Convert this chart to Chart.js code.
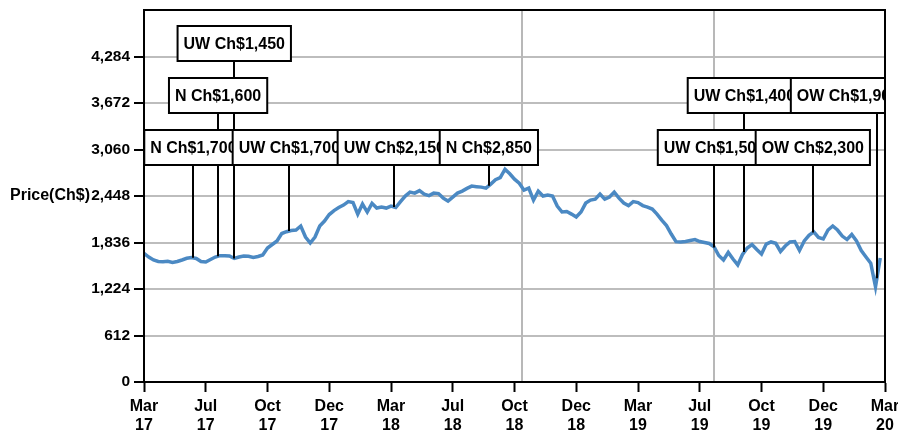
<!DOCTYPE html>
<html>
<head>
<meta charset="utf-8">
<script src="https://cdn.jsdelivr.net/npm/chart.js@4"></script>
<style>
  html, body { margin: 0; padding: 0; background: #fff; }
  #wrap { width: 898px; height: 434px; }
</style>
</head>
<body>
<div id="wrap"><canvas id="myChart"></canvas></div>
<script>
// weekly closing price (Ch$), Mar 2017 -> Mar 2020
const prices = [
  1694, 1645, 1606, 1586, 1584, 1590, 1573, 1586, 1606, 1628,
  1639, 1626, 1586, 1580, 1613, 1645, 1663, 1663, 1659, 1626,
  1645, 1659, 1655, 1639, 1652, 1672, 1764, 1810, 1856, 1954,
  1978, 1994, 2000, 2053, 1908, 1829, 1908, 2053, 2118, 2204,
  2256, 2296, 2328, 2374, 2361, 2210, 2342, 2237, 2351, 2289,
  2302, 2289, 2315, 2296, 2374, 2447, 2499, 2486, 2519, 2473,
  2453, 2486, 2480, 2420, 2381, 2434, 2486, 2512, 2548, 2578,
  2571, 2565, 2552, 2604, 2663, 2690, 2800, 2740, 2670, 2617,
  2525, 2552, 2394, 2512, 2447, 2460, 2447, 2315, 2237, 2243,
  2210, 2171, 2237, 2355, 2394, 2407, 2473, 2407, 2434, 2499,
  2420, 2355, 2322, 2374, 2361, 2322, 2302, 2276, 2210, 2131,
  2059, 1948, 1847, 1843, 1849, 1862, 1875, 1849, 1836, 1823,
  1781, 1665, 1606, 1705, 1619, 1541, 1678, 1764, 1810, 1744,
  1685, 1816, 1843, 1825, 1718, 1790, 1843, 1849, 1731, 1856,
  1930, 1975, 1902, 1882, 2000, 2053, 2000, 1921, 1875, 1941,
  1856, 1731, 1646, 1563, 1252, 1632
];

const tickMonths = ['Mar', 'Jul', 'Oct', 'Dec', 'Mar', 'Jul', 'Oct', 'Dec', 'Mar', 'Jul', 'Oct', 'Dec', 'Mar'];
const tickYears = ['17', '17', '17', '17', '18', '18', '18', '18', '19', '19', '19', '19', '20'];
const yTicks = [0, 612, 1224, 1836, 2448, 3060, 3672, 4284];
const yMax = 4896;
const totalWeeks = 156;

// grey marker lines (week index)
const markerWeeks = [79.6, 120.1];

// rating notes: week of the call, where its box sits, text, row
const noteWeeks = [10.4, 15.6, 19.0, 30.6, 52.7, 72.6, 120.1, 126.4, 140.8, 154.3];
const noteBoxWeeks = [10.4, 15.6, 19.0, 30.6, 52.7, 72.6, 120.1, 126.4, 140.8, 148.2];
const noteLabels = ['N Ch$1,700', 'N Ch$1,600', 'UW Ch$1,450', 'UW Ch$1,700', 'UW Ch$2,150',
                    'N Ch$2,850', 'UW Ch$1,500', 'UW Ch$1,400', 'OW Ch$2,300', 'OW Ch$1,900'];
const noteRows = [2, 1, 0, 2, 2, 2, 2, 1, 2, 1];

const FONT = '"Liberation Sans", Arial, Helvetica, sans-serif';

function priceAt(w) {
  const i = Math.floor(w), f = w - i;
  if (i >= prices.length - 1) return prices[prices.length - 1];
  return prices[i] + (prices[i + 1] - prices[i]) * f;
}

const notesPlugin = {
  id: 'notes',
  beforeDatasetsDraw(chart) {
    const { ctx, chartArea: a, scales: { x } } = chart;
    ctx.save();
    ctx.strokeStyle = '#b8b8b8';
    ctx.lineWidth = 2;
    markerWeeks.forEach(w => {
      const px = Math.round(x.getPixelForValue(w));
      ctx.beginPath();
      ctx.moveTo(px, a.top);
      ctx.lineTo(px, a.bottom);
      ctx.stroke();
    });
    ctx.restore();
  },
  afterDatasetsDraw(chart) {
    const { ctx, chartArea: a, scales: { x, y } } = chart;
    const rowTops = [16, 68, 120];
    const boxH = 35;
    ctx.save();
    ctx.beginPath();
    ctx.rect(a.left, a.top, a.right - a.left, a.bottom - a.top);
    ctx.clip();
    ctx.font = 'bold 16px ' + FONT;
    ctx.strokeStyle = '#000';
    ctx.lineWidth = 2;

    // connector lines, behind every box
    noteWeeks.forEach((w, i) => {
      const px = Math.round(x.getPixelForValue(w));
      const top = a.top + rowTops[noteRows[i]] + boxH;
      const py = y.getPixelForValue(priceAt(w));
      ctx.beginPath();
      ctx.moveTo(px, top);
      ctx.lineTo(px, py);
      ctx.stroke();
    });

    // boxes, later ones drawn over earlier ones
    noteLabels.forEach((t, i) => {
      const bw = ctx.measureText(t).width + 12;
      const cx = x.getPixelForValue(noteBoxWeeks[i]);
      const top = a.top + rowTops[noteRows[i]];
      ctx.fillStyle = '#fff';
      ctx.fillRect(cx - bw / 2, top, bw, boxH);
      ctx.strokeRect(cx - bw / 2, top, bw, boxH);
      ctx.fillStyle = '#000';
      ctx.textAlign = 'center';
      ctx.textBaseline = 'middle';
      ctx.fillText(t, cx, top + boxH / 2 + 1);
    });
    ctx.restore();

    // plot frame + y title
    ctx.save();
    ctx.strokeStyle = '#000';
    ctx.lineWidth = 2;
    ctx.strokeRect(a.left, a.top, a.right - a.left, a.bottom - a.top);
    ctx.font = 'bold 16px ' + FONT;
    ctx.fillStyle = '#000';
    ctx.textAlign = 'right';
    ctx.textBaseline = 'middle';
    ctx.fillText('Price(Ch$)', 90, (a.top + a.bottom) / 2);
    ctx.restore();
  }
};

new Chart(document.getElementById('myChart'), {
  type: 'line',
  data: {
    datasets: [{
      label: 'Price(Ch$)',
      data: prices.map((p, i) => ({ x: i, y: p })),
      borderColor: '#4b89c3',
      borderWidth: 3.5,
      pointRadius: 0,
      tension: 0,
      fill: false
    }]
  },
  options: {
    responsive: true,
    maintainAspectRatio: false,
    animation: false,
    layout: { padding: { top: 10, right: 13, left: 0, bottom: 0 } },
    plugins: {
      legend: { display: false },
      tooltip: { enabled: false }
    },
    scales: {
      x: {
        type: 'linear',
        min: 0,
        max: totalWeeks,
        afterBuildTicks: s => { s.ticks = tickMonths.map((m, i) => ({ value: i * totalWeeks / (tickMonths.length - 1) })); },
        afterFit: s => { s.height = 52; s.paddingLeft = 0; s.paddingRight = 0; },
        ticks: {
          autoSkip: false,
          maxRotation: 0,
          padding: 5,
          color: '#000',
          font: { family: FONT, size: 16, weight: 'bold' },
          callback: (v, i) => [tickMonths[i], tickYears[i]]
        },
        grid: { drawOnChartArea: false, tickLength: 10, tickColor: '#000', tickWidth: 2 },
        border: { color: '#000', width: 2 }
      },
      y: {
        min: 0,
        max: yMax,
        afterBuildTicks: s => { s.ticks = yTicks.map(v => ({ value: v })); },
        afterFit: s => { s.width = 144; s.paddingTop = 0; s.paddingBottom = 0; },
        ticks: {
          padding: 4,
          color: '#000',
          font: { family: FONT, size: 15.5, weight: 'bold' },
          callback: v => v.toLocaleString('en-US')
        },
        grid: { color: '#bdbdbd', lineWidth: 2, tickLength: 10, tickColor: '#000', tickWidth: 2 },
        border: { color: '#000', width: 2 }
      }
    }
  },
  plugins: [notesPlugin]
});
</script>
</body>
</html>
